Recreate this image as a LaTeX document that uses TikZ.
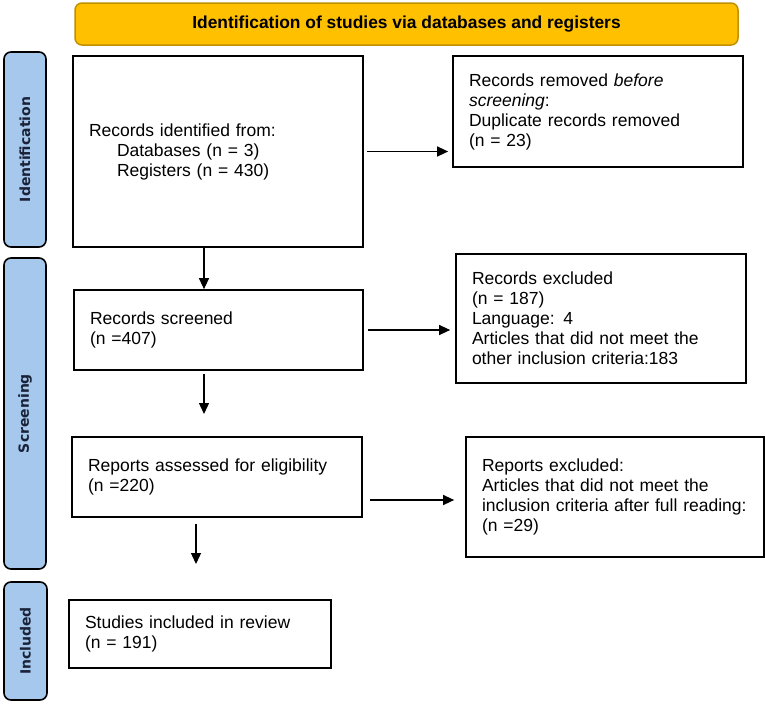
\documentclass[tikz,border=0pt]{standalone}
\usepackage{fontspec}
\setmainfont{Liberation Sans}
\newfontfamily\sidefont{DejaVu Sans}
\usetikzlibrary{arrows.meta,calc}
\definecolor{titlefill}{HTML}{FFC000}
\definecolor{titleedge}{HTML}{BF9000}
\definecolor{sidefill}{HTML}{A5C8EC}
\definecolor{sidetext}{HTML}{1A2238}
\begin{document}
\begin{tikzpicture}[x=1pt,y=-1pt,
  flowbox/.style={draw=black, line width=1.7pt, fill=white, inner xsep=16pt, inner ysep=0pt,
    align=left, font=\fontsize{17.5}{20}\selectfont, anchor=center},
  sidebar/.style={draw=black, line width=1.6pt, fill=sidefill, rounded corners=7pt, inner sep=0pt},
  sidelabel/.style={rotate=90, font=\sidefont\bfseries\fontsize{14}{16}\selectfont, text=sidetext},
  titlebox/.style={draw=titleedge, line width=1.5pt, fill=titlefill, rounded corners=7pt,
    font=\bfseries\fontsize{17.4}{20}\selectfont, inner sep=0pt},
  arr/.style={line width=1.3pt, -{Triangle[length=11pt,width=10pt]}},
]
\useasboundingbox (0,0) rectangle (765,704);

% title
\node[titlebox, minimum width=663pt, minimum height=42pt] (title) at (406.5,24)
  {Identification of studies via databases and registers};

% side bars
\node[sidebar, minimum width=42pt, minimum height=195pt] (sid) at (25,149.5) {};
\node[sidelabel] (sidl) at (sid.center) {Identification};
\node[sidebar, minimum width=42pt, minimum height=311pt] (scr) at (25,413.5) {};
\node[sidelabel] (scrl) at (scr.center) {Screening};
\node[sidebar, minimum width=43pt, minimum height=118pt] (inc) at (25.5,641) {};
\node[sidelabel] (incl) at (inc.center) {Included};

% boxes
\node[flowbox, minimum width=290pt, minimum height=191pt, text width=258pt] (b1) at (218,151.5)
  {Records identified from:\\\hspace*{28pt}Databases (n = 3)\\\hspace*{28pt}Registers (n = 430)};
\node[flowbox, minimum width=290pt, minimum height=111pt, text width=258pt] (rem) at (598,111.5)
  {Records removed \textit{before}\\\textit{screening}:\\Duplicate records removed\\(n = 23)};
\node[flowbox, minimum width=289pt, minimum height=80pt, text width=257pt] (b2) at (218.5,330)
  {Records screened\\(n =407)};
\node[flowbox, minimum width=290pt, minimum height=129pt, text width=258pt] (exc) at (601,318.5)
  {Records excluded\\(n = 187)\\Language: 4\\Articles that did not meet the\\other inclusion criteria:183};
\node[flowbox, minimum width=290pt, minimum height=80pt, text width=258pt] (b3) at (217,477)
  {Reports assessed for eligibility\\(n =220)};
\node[flowbox, minimum width=298pt, minimum height=120pt, text width=266pt] (rep) at (615,497)
  {Reports excluded:\\Articles that did not meet the\\inclusion criteria after full reading:\\(n =29)};
\node[flowbox, minimum width=262pt, minimum height=68pt, text width=230pt] (stu) at (200,634)
  {Studies included in review\\(n = 191)};

% connectors
\coordinate (xa) at (204,0);
\coordinate (xb) at (196,0);
\coordinate (e2) at (204,414);
\coordinate (e3) at (196,564);
\coordinate (r3) at ($(b3.east)+(0,23)$);

\draw[arr, shorten <=3pt, shorten >=4pt] (b1.east) -- (b1.east -| rem.west);
\draw[arr] (b1.south -| xa) -- (b2.north -| xa);
\draw[arr, shorten <=4pt, shorten >=5pt] (b2.east) -- (b2.east -| exc.west);
\draw[arr, shorten <=3pt] (b2.south -| xa) -- (e2);
\draw[arr, shorten <=7pt, shorten >=11pt] (r3) -- (r3 -| rep.west);
\draw[arr, shorten <=6pt] (b3.south -| xb) -- (e3);
\end{tikzpicture}
\end{document}
